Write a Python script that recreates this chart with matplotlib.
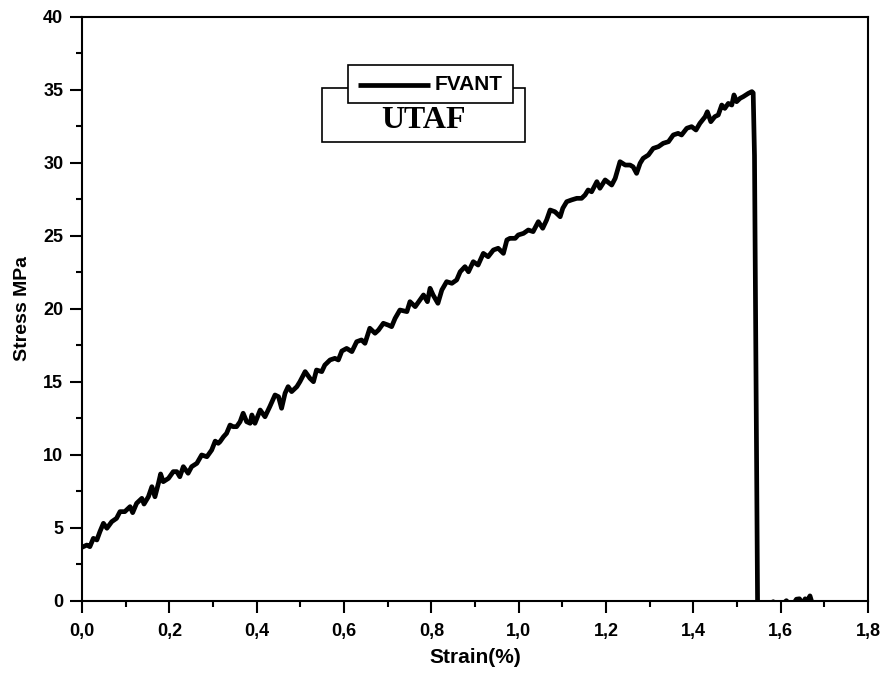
import numpy as np
import matplotlib
matplotlib.use("Agg")
import matplotlib.pyplot as plt
from matplotlib.patches import Rectangle
from matplotlib.ticker import MultipleLocator, FuncFormatter

# tensile test curve (strain in %, stress in MPa)
strain = [0.003, 0.011, 0.018, 0.026, 0.034, 0.041, 0.049, 0.057, 0.068, 0.079,
          0.087, 0.098, 0.110, 0.116, 0.125, 0.137, 0.142, 0.152, 0.160, 0.167,
          0.175, 0.180, 0.186, 0.198, 0.209, 0.217, 0.224, 0.232, 0.243, 0.251,
          0.263, 0.274, 0.286, 0.297, 0.305, 0.312, 0.316, 0.324, 0.331, 0.339,
          0.346, 0.354, 0.362, 0.369, 0.377, 0.385, 0.389, 0.396, 0.408, 0.419,
          0.430, 0.442, 0.450, 0.457, 0.465, 0.472, 0.480, 0.492, 0.499, 0.511,
          0.522, 0.530, 0.537, 0.549, 0.556, 0.568, 0.579, 0.587, 0.595, 0.606,
          0.618, 0.629, 0.640, 0.648, 0.659, 0.671, 0.679, 0.690, 0.701, 0.709,
          0.717, 0.728, 0.744, 0.751, 0.763, 0.774, 0.782, 0.791, 0.797, 0.804,
          0.815, 0.824, 0.835, 0.847, 0.858, 0.866, 0.877, 0.885, 0.896, 0.907,
          0.919, 0.930, 0.942, 0.953, 0.965, 0.973, 0.980, 0.992, 0.999, 1.011,
          1.022, 1.033, 1.045, 1.055, 1.064, 1.072, 1.083, 1.095, 1.101, 1.110,
          1.121, 1.133, 1.144, 1.152, 1.159, 1.167, 1.179, 1.186, 1.198, 1.213,
          1.221, 1.232, 1.244, 1.255, 1.262, 1.270, 1.278, 1.285, 1.297, 1.308,
          1.320, 1.331, 1.343, 1.354, 1.365, 1.373, 1.385, 1.396, 1.406, 1.415,
          1.427, 1.432, 1.440, 1.449, 1.457, 1.465, 1.472, 1.480, 1.488, 1.493,
          1.499, 1.507, 1.514, 1.526, 1.534, 1.537, 1.540, 1.547,
          1.560, 1.583, 1.598, 1.613, 1.625, 1.636, 1.643, 1.650, 1.656, 1.662,
          1.667, 1.671, 1.675]
stress = [3.72, 3.83, 3.72, 4.29, 4.18, 4.75, 5.32, 4.98, 5.43, 5.66,
          6.12, 6.12, 6.46, 6.05, 6.69, 7.03, 6.64, 7.14, 7.83, 7.14,
          8.06, 8.70, 8.17, 8.40, 8.86, 8.86, 8.51, 9.20, 8.75, 9.20,
          9.43, 10.00, 9.88, 10.34, 10.95, 10.80, 10.91, 11.25, 11.48, 12.05,
          11.94, 11.94, 12.28, 12.86, 12.28, 12.17, 12.74, 12.17, 13.08, 12.62,
          13.31, 14.11, 13.99, 13.20, 14.23, 14.68, 14.34, 14.68, 15.02, 15.71,
          15.25, 15.02, 15.82, 15.71, 16.16, 16.51, 16.62, 16.51, 17.12, 17.30,
          17.08, 17.76, 17.88, 17.65, 18.68, 18.34, 18.56, 19.02, 18.90, 18.79,
          19.36, 19.93, 19.82, 20.50, 20.16, 20.62, 20.96, 20.50, 21.42, 20.96,
          20.39, 21.30, 21.87, 21.76, 21.99, 22.55, 22.90, 22.55, 23.24, 23.01,
          23.81, 23.58, 24.04, 24.16, 23.81, 24.73, 24.84, 24.84, 25.07, 25.18,
          25.41, 25.30, 25.98, 25.53, 26.10, 26.78, 26.66, 26.32, 26.90, 27.35,
          27.47, 27.58, 27.58, 27.81, 28.15, 28.03, 28.72, 28.27, 28.84, 28.49,
          28.95, 30.09, 29.86, 29.86, 29.74, 29.29, 29.98, 30.32, 30.55, 31.00,
          31.12, 31.35, 31.46, 31.92, 32.03, 31.92, 32.38, 32.49, 32.26, 32.72,
          33.17, 33.51, 32.83, 33.17, 33.29, 33.97, 33.74, 34.08, 33.97, 34.66,
          34.20, 34.43, 34.54, 34.77, 34.89, 34.80, 30.50, 0.00,
          -0.40, -0.05, -0.40, 0.02, -0.40, 0.12, 0.15, -0.20, 0.15, 0.05,
          0.35, -0.05, -0.40]

x_ticks = [0.0, 0.2, 0.4, 0.6, 0.8, 1.0, 1.2, 1.4, 1.6, 1.8]
y_ticks = [0, 5, 10, 15, 20, 25, 30, 35, 40]

plt.rcParams['font.family'] = ['Liberation Sans', 'DejaVu Sans']
plt.rcParams['font.weight'] = 'bold'

fig = plt.figure(figsize=(8.8, 6.8), dpi=100)
ax = fig.add_axes([0.0932, 0.1162, 0.8932, 0.8588])

ax.plot(strain, stress, color='black', lw=3.4, solid_joinstyle='round', zorder=3)

ax.set_xlim(0, 1.8)
ax.set_ylim(0, 40)
ax.set_xticks(x_ticks)
ax.set_yticks(y_ticks)
ax.xaxis.set_minor_locator(MultipleLocator(0.1))
ax.yaxis.set_minor_locator(MultipleLocator(2.5))
ax.xaxis.set_major_formatter(FuncFormatter(lambda v, p: f"{v:.1f}".replace('.', ',')))
ax.tick_params(which='major', direction='out', length=8.5, width=1.5, labelsize=13)
ax.tick_params(axis='x', which='major', pad=7)
ax.tick_params(axis='y', which='major', pad=5)
ax.tick_params(which='minor', direction='out', length=4, width=1.5)
for lab in ax.get_xticklabels() + ax.get_yticklabels():
    lab.set_fontweight('bold')
for sp in ax.spines.values():
    sp.set_linewidth(1.5)

ax.set_xlabel('Strain(%)', fontsize=15, fontweight='bold', labelpad=6)
ax.set_ylabel('Stress MPa', fontsize=14, fontweight='bold', labelpad=9)

# outer annotation box with "UTAF", legend box on top of it
ax.add_patch(Rectangle((0.305, 0.7865), 0.2586, 0.0915, transform=ax.transAxes,
                       facecolor='white', edgecolor='black', lw=1.2, zorder=4))
ax.text(0.435, 0.810, 'UTAF', transform=ax.transAxes, ha='center', va='baseline',
        fontsize=23, fontweight='bold', family=['Liberation Serif', 'DejaVu Serif'],
        zorder=5)
ax.add_patch(Rectangle((0.3388, 0.853), 0.2099, 0.065, transform=ax.transAxes,
                       facecolor='white', edgecolor='black', lw=1.2, zorder=6))
ax.plot([0.3511, 0.4427], [0.8836, 0.8836], transform=ax.transAxes, color='black',
        lw=3.4, solid_capstyle='butt', zorder=7)
ax.text(0.449, 0.8836, 'FVANT', transform=ax.transAxes, ha='left', va='center',
        fontsize=15, fontweight='bold', zorder=7)

fig.savefig('out.png', dpi=100)
